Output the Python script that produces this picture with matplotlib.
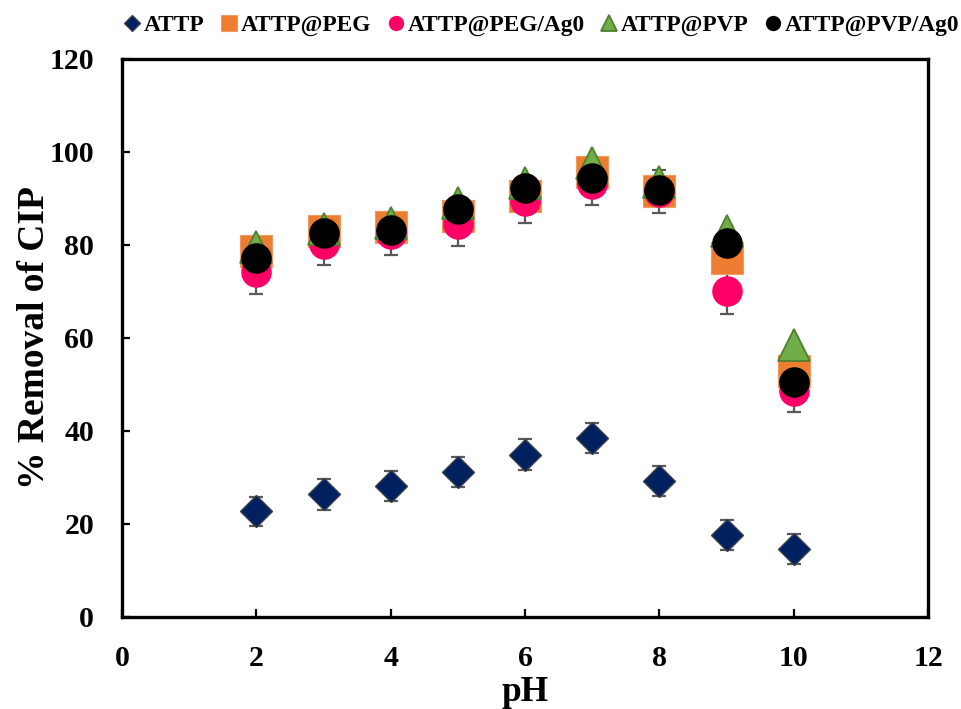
import matplotlib
matplotlib.use('Agg')
import matplotlib.pyplot as plt

# --------------------- dados
ph = [2, 3, 4, 5, 6, 7, 8, 9, 10]
attp = [22.7, 26.4, 28.2, 31.1, 34.9, 38.5, 29.2, 17.6, 14.6]
attp_err = [3.2, 3.3, 3.2, 3.2, 3.3, 3.2, 3.2, 3.3, 3.2]
attp_peg = [78.8, 82.9, 83.9, 86.3, 90.6, 95.8, 91.7, 77.1, 52.9]
attp_peg_ag = [74.2, 80.3, 82.4, 84.5, 89.5, 93.1, 91.5, 70.0, 48.7]
attp_peg_ag_err = [4.7, 4.7, 4.6, 4.7, 4.7, 4.6, 4.6, 4.8, 4.7]
attp_pvp = [79.6, 83.5, 84.8, 89.1, 93.3, 97.6, 93.5, 83.0, 58.4]
attp_pvp_ag = [77.3, 82.6, 83.3, 87.8, 92.3, 94.4, 91.8, 80.5, 50.6]

labels = ['ATTP', 'ATTP@PEG', 'ATTP@PEG/Ag0', 'ATTP@PVP', 'ATTP@PVP/Ag0']
x_ticks = [0, 2, 4, 6, 8, 10, 12]
y_ticks = [0, 20, 40, 60, 80, 100, 120]

plt.rcParams['font.family'] = ['Liberation Serif', 'DejaVu Serif']
plt.rcParams['font.weight'] = 'bold'

fig = plt.figure(figsize=(9.62, 7.09), dpi=100)
ax = fig.add_axes([0.1268, 0.1298, 0.8380, 0.7870])

# barras de erro (atrás dos marcadores)
ax.errorbar(ph, attp, yerr=attp_err, fmt='none', ecolor='#595959',
            elinewidth=1.6, capsize=5, capthick=1.6, zorder=1)
ax.errorbar(ph, attp_peg_ag, yerr=attp_peg_ag_err, fmt='none', ecolor='#595959',
            elinewidth=1.6, capsize=5, capthick=1.6, zorder=1)

ax.plot(ph, attp, 'D', ms=16.5, color='#002060', mec='#3a3f4a', mew=1.0,
        ls='none', label=labels[0], zorder=3)
ax.plot(ph, attp_peg, 's', ms=23.5, color='#ED7D31', mec='#F19A60', mew=0.8,
        ls='none', label=labels[1], zorder=3)
ax.plot(ph, attp_peg_ag, 'o', ms=22, color='#FF0066', mec='#FF0066', mew=0,
        ls='none', label=labels[2], zorder=4)
ax.plot(ph, attp_pvp, '^', ms=23, color='#70AD47', mec='#507E32', mew=1.3,
        ls='none', label=labels[3], zorder=5)
ax.plot(ph, attp_pvp_ag, 'o', ms=22, color='black', mew=0,
        ls='none', label=labels[4], zorder=6)

ax.set_xlim(0, 12)
ax.set_ylim(0, 120)
ax.set_xticks(x_ticks)
ax.set_yticks(y_ticks)
ax.tick_params(direction='in', length=6, width=1.6, labelsize=21.5)
ax.tick_params(axis='x', pad=20)
ax.tick_params(axis='y', pad=20)
for s in ax.spines.values():
    s.set_linewidth(2.4)

ax.set_xlabel('pH', fontsize=25.5, fontweight='bold', labelpad=3)
ax.set_ylabel('% Removal of CIP', fontsize=27, fontweight='bold', labelpad=-2)

fig.legend(loc='center', bbox_to_anchor=(0.563, 0.964), ncol=5, frameon=False,
           fontsize=16.8, markerscale=0.5, handlelength=0.7, handletextpad=0.15,
           columnspacing=0.7, borderaxespad=0)

plt.savefig('out.png', dpi=100)
